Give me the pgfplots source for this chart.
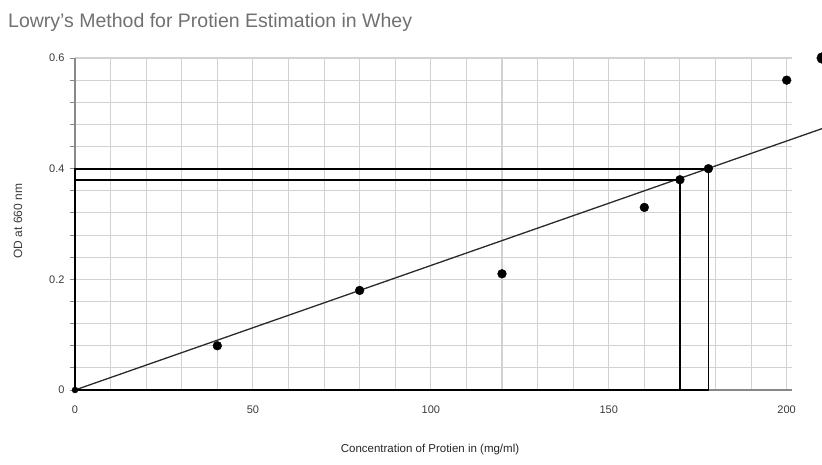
\documentclass[border=0pt]{standalone}
\usepackage{fontspec}
\setmainfont{Liberation Sans}
\usepackage{pgfplots}
\pgfplotsset{compat=1.18}
\definecolor{titlegray}{HTML}{707070}
\definecolor{gridgray}{HTML}{D2D2D2}
\definecolor{ticklab}{HTML}{3A3A3A}
\definecolor{axgray}{HTML}{888888}
\definecolor{trend}{HTML}{2A2A2A}
\begin{document}
\begin{tikzpicture}[x=1pt,y=1pt]
\clip (0,0) rectangle (822,464);
\path (0,0) rectangle (822,464);
\node[anchor=base west, text=titlegray, font=\fontsize{19.5}{20}\selectfont, inner sep=0pt] at (8,436) {Lowry's Method for Protien Estimation in Whey};
\begin{axis}[
  at={(75pt,74pt)}, anchor=south west,
  scale only axis, width=717pt, height=332pt,
  xmin=0, xmax=201.5, ymin=0, ymax=0.6,
  axis x line=bottom, axis y line=left,
  axis line style={-, axgray, line width=1.2pt},
  xtick={0,50,100,150,200}, ytick={0,0.2,0.4,0.6},
  minor x tick num=4, minor y tick num=4,
  grid=both,
  major grid style={gridgray, line width=1.1pt},
  minor grid style={gridgray, line width=1.1pt},
  tick align=outside,
  x tick style={draw=none}, minor x tick style={draw=none},
  y tick style={axgray, line width=1pt},
  major tick length=5pt, minor tick length=5pt,
  /pgf/number format/assume math mode=true,
  yticklabel style={xshift=-2pt, /pgf/number format/.cd, fixed, precision=1},
  tick label style={font=\fontsize{11}{13}\selectfont, text=ticklab},
  xticklabel style={yshift=-7pt},
  clip=false,
]
\addplot[trend, line width=1.3pt] coordinates {(0,0) (210,0.4725)};
\addplot[black, line width=1.7pt] coordinates {(0,0) (0,0.4) (178,0.4) (178,0) (0,0)};
\addplot[black, line width=1.7pt] coordinates {(0,0) (0,0.38) (170,0.38) (170,0) (0,0)};
\addplot[only marks, mark=*, mark size=4.4pt, black] coordinates {(40,0.08) (80,0.18) (120,0.21) (160,0.33) (170,0.38) (178,0.40) (200,0.56)};
\addplot[only marks, mark=*, mark size=3pt, black] coordinates {(0,0)};
\addplot[only marks, mark=*, mark size=5.5pt, black] coordinates {(210,0.6)};
\end{axis}
\node[rotate=90, text=ticklab, font=\fontsize{12}{14}\selectfont] at (18,243) {OD at 660 nm};
\node[text=black!85, font=\fontsize{11.5}{13}\selectfont] at (430,14) {Concentration of Protien in (mg/ml)};
\end{tikzpicture}
\end{document}
